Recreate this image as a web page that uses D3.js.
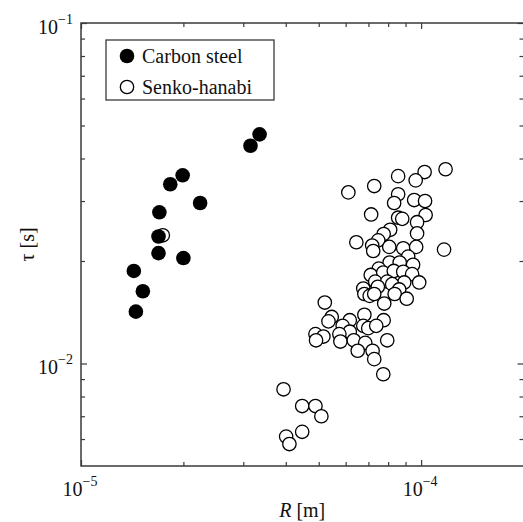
<!DOCTYPE html>
<html>
<head>
<meta charset="utf-8">
<script src="https://cdn.jsdelivr.net/npm/d3@7"></script>
<style>
  body { margin: 0; background: #fff; overflow: hidden; }
  text { font-family: "Liberation Serif", "DejaVu Serif", serif; }
</style>
</head>
<body>
<div id="chart"></div>
<script>
// carbon steel droplets: radius R [m], time tau [s]
let carbonR   = [3.35e-5, 3.15e-5, 1.99e-5, 1.83e-5, 2.24e-5, 1.70e-5, 1.69e-5, 1.69e-5, 2.00e-5, 1.43e-5, 1.52e-5, 1.45e-5];
let carbonTau = [0.0471, 0.0436, 0.0357, 0.0336, 0.0296, 0.0278, 0.0236, 0.0211, 0.0204, 0.0187, 0.0163, 0.0142];

// senko-hanabi droplets
let senkoR = [
  1.18e-4, 1.024e-4, 8.56e-5, 9.64e-5, 7.28e-5, 6.11e-5, 8.56e-5, 8.33e-5, 9.54e-5, 1.027e-4,
  7.13e-5, 1.031e-4, 8.56e-5, 8.80e-5, 9.73e-5, 8.11e-5, 7.76e-5, 9.73e-5, 7.48e-5, 6.45e-5,
  7.18e-5, 8.06e-5, 8.86e-5, 9.67e-5, 1.168e-4, 7.23e-5, 9.16e-5, 8.08e-5, 8.65e-5, 9.47e-5,
  7.51e-5, 7.11e-5, 7.74e-5, 8.31e-5, 8.86e-5, 9.41e-5, 7.33e-5, 7.95e-5, 8.92e-5, 9.87e-5,
  8.22e-5, 6.76e-5, 7.46e-5, 8.62e-5, 6.81e-5, 7.06e-5, 7.28e-5, 8.36e-5, 9.07e-5, 7.79e-5,
  5.21e-5, 5.46e-5, 5.34e-5, 6.17e-5, 6.81e-5, 7.76e-5, 5.88e-5, 6.76e-5, 6.99e-5, 7.38e-5,
  6.17e-5, 5.75e-5, 4.89e-5, 5.16e-5, 4.91e-5, 5.79e-5, 6.34e-5, 6.85e-5, 7.95e-5, 6.51e-5,
  7.20e-5, 7.28e-5, 7.74e-5, 3.94e-5, 4.47e-5, 4.89e-5, 5.09e-5, 4.47e-5, 4.01e-5, 4.10e-5,
  1.74e-5
];
let senkoTau = [
  0.0372, 0.0365, 0.0355, 0.0345, 0.0332, 0.0318, 0.0314, 0.0296, 0.0302, 0.0300,
  0.0274, 0.0273, 0.0268, 0.0266, 0.0260, 0.0247, 0.0240, 0.0241, 0.0230, 0.0227,
  0.0222, 0.0220, 0.0218, 0.0220, 0.0216, 0.0214, 0.0206, 0.0198, 0.0198, 0.0195,
  0.0190, 0.0182, 0.0185, 0.0187, 0.0186, 0.0183, 0.0174, 0.0174, 0.0173, 0.0173,
  0.0171, 0.0166, 0.0168, 0.0165, 0.0160, 0.0158, 0.0160, 0.0160, 0.0155, 0.0150,
  0.0151, 0.0137, 0.0133, 0.0134, 0.0139, 0.0134, 0.0129, 0.0129, 0.0127, 0.0129,
  0.0124, 0.0122, 0.0122, 0.0120, 0.0117, 0.0116, 0.0117, 0.0115, 0.0117, 0.0109,
  0.0109, 0.0103, 0.0093, 0.0084, 0.0075, 0.0075, 0.0070, 0.0063, 0.0061, 0.0058,
  0.0238
];

let xMajor = [1e-5, 1e-4];
let xExp   = ["\u22125", "\u22124"];
let xMinor = [2e-5, 3e-5, 4e-5, 5e-5, 6e-5, 7e-5, 8e-5, 9e-5];
let yMajor = [1e-2, 1e-1];
let yExp   = ["\u22122", "\u22121"];
let yMinor = [6e-3, 7e-3, 8e-3, 9e-3, 2e-2, 3e-2, 4e-2, 5e-2, 6e-2, 7e-2, 8e-2, 9e-2];

let seriesNames = ["Carbon steel", "Senko-hanabi"];

function logScatter(id, w, h) {
    let left = 81, top = 23, right = 523.5, bottom = 466;
    let axisColor = '#3a3a3a';
    let font = '"Liberation Serif", "DejaVu Serif", serif';
    let r = 7.3;

    var xScale = d3.scaleLog().domain([1e-5, 2e-4]).range([left, right]);
    var yScale = d3.scaleLog().domain([0.005, 0.1]).range([bottom, top]);

    var svg = d3.select(id).append("svg")
        .attr("width", w)
        .attr("height", h)
        .style("display", "block");

    // points: senko first, carbon steel drawn on top
    let senko = senkoR.map(function(d, i) { return {r: d, t: senkoTau[i]}; });
    let carbon = carbonR.map(function(d, i) { return {r: d, t: carbonTau[i]}; });

    svg.selectAll("circle.senko")
        .data(senko)
        .enter()
        .append("circle")
        .attr("class", "senko")
        .attr("cx", function(d) { return xScale(d.r); })
        .attr("cy", function(d) { return yScale(d.t); })
        .attr("r", r - 0.6)
        .attr("fill", "#fff")
        .attr("stroke", "#000")
        .attr("stroke-width", 1.3);

    svg.selectAll("circle.carbon")
        .data(carbon)
        .enter()
        .append("circle")
        .attr("class", "carbon")
        .attr("cx", function(d) { return xScale(d.r); })
        .attr("cy", function(d) { return yScale(d.t); })
        .attr("r", r)
        .attr("fill", "#000");

    // ticks on all four sides, pointing inward
    function addAxis(axis, tx, ty, vals, size) {
        svg.append("g")
            .attr("transform", "translate(" + tx + "," + ty + ")")
            .call(axis.tickValues(vals).tickSize(size).tickSizeOuter(0).tickFormat(""))
            .call(function(g) {
                g.select(".domain").remove();
                g.selectAll("line").attr("stroke", axisColor).attr("stroke-width", 1.2);
            });
    }
    addAxis(d3.axisBottom(xScale), 0, bottom, xMajor, -6);
    addAxis(d3.axisBottom(xScale), 0, bottom, xMinor, -4);
    addAxis(d3.axisTop(xScale), 0, top, xMajor, -6);
    addAxis(d3.axisTop(xScale), 0, top, xMinor, -4);
    addAxis(d3.axisLeft(yScale), left, 0, yMajor, -6);
    addAxis(d3.axisLeft(yScale), left, 0, yMinor, -4);
    addAxis(d3.axisRight(yScale), right, 0, yMajor, -6);
    addAxis(d3.axisRight(yScale), right, 0, yMinor, -4);

    // frame: top, left, bottom (right side runs off the picture)
    svg.append("path")
        .attr("d", "M" + w + "," + top + "H" + left + "V" + bottom + "H" + w)
        .attr("fill", "none")
        .attr("stroke", axisColor)
        .attr("stroke-width", 1.5);

    // power-of-ten tick labels
    function powLabel(sel, exp) {
        sel.append("tspan").text("10");
        sel.append("tspan")
            .attr("dy", -10)
            .style("font-size", "14px")
            .text(exp);
    }

    xMajor.forEach(function(v, i) {
        let t = svg.append("text")
            .attr("x", xScale(v) - 1)
            .attr("y", bottom + 30)
            .attr("text-anchor", "middle")
            .style("font-family", font)
            .style("font-size", "20px")
            .attr("fill", "#111");
        powLabel(t, xExp[i]);
    });

    yMajor.forEach(function(v, i) {
        let t = svg.append("text")
            .attr("x", left - 8)
            .attr("y", yScale(v) + 11)
            .attr("text-anchor", "end")
            .style("font-family", font)
            .style("font-size", "20px")
            .attr("fill", "#111");
        powLabel(t, yExp[i]);
    });

    // axis titles
    let xt = svg.append("text")
        .attr("x", (left + right) / 2)
        .attr("y", h - 5)
        .attr("text-anchor", "middle")
        .style("font-family", font)
        .style("font-size", "20px")
        .attr("fill", "#111");
    xt.append("tspan").style("font-style", "italic").text("R");
    xt.append("tspan").text(" [m]");

    svg.append("text")
        .attr("transform", "translate(34," + ((top + bottom) / 2) + ") rotate(-90)")
        .attr("text-anchor", "middle")
        .style("font-family", font)
        .style("font-size", "20px")
        .attr("fill", "#111")
        .text("\u03c4 [s]");

    // legend
    let lg = svg.append("g");
    lg.append("rect")
        .attr("x", 106)
        .attr("y", 40)
        .attr("width", 168)
        .attr("height", 60)
        .attr("fill", "#fff")
        .attr("stroke", axisColor)
        .attr("stroke-width", 1.3);

    lg.selectAll("circle")
        .data(seriesNames)
        .enter()
        .append("circle")
        .attr("cx", 127)
        .attr("cy", function(d, i) { return 56 + i * 31; })
        .attr("r", function(d, i) { return i == 0 ? r : r - 0.6; })
        .attr("fill", function(d, i) { return i == 0 ? "#000" : "#fff"; })
        .attr("stroke", function(d, i) { return i == 0 ? "none" : "#000"; })
        .attr("stroke-width", 1.3);

    lg.selectAll("text")
        .data(seriesNames)
        .enter()
        .append("text")
        .attr("x", 142)
        .attr("y", function(d, i) { return 63 + i * 31; })
        .style("font-family", font)
        .style("font-size", "20px")
        .attr("fill", "#111")
        .text(function(d) { return d; });

    return svg;
}

logScatter("#chart", 523, 522);
</script>
</body>
</html>
